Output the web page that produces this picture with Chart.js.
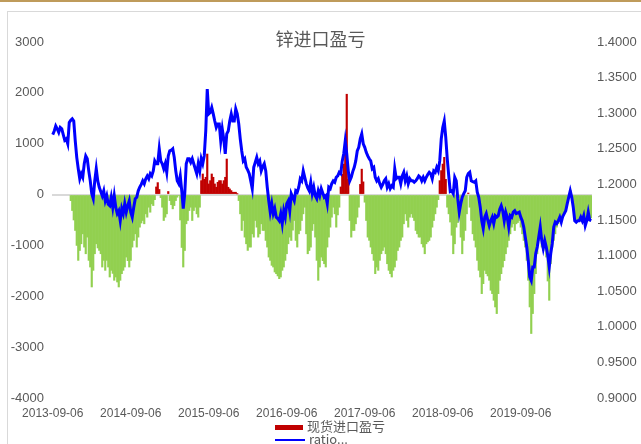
<!DOCTYPE html>
<html>
<head>
<meta charset="utf-8">
<script src="https://cdn.jsdelivr.net/npm/chart.js@4.4.1/dist/chart.umd.min.js"></script>
<style>
  body { margin: 0; background: #fff; }
  #wrap { position: relative; width: 641px; height: 444px; overflow: hidden; }
  #topline { position: absolute; left: 0; top: 0; width: 641px; height: 2px; background: #bf9b5b; }
  #frame { position: absolute; left: 7px; top: 11px; width: 700px; height: 500px;
    border-left: 1px solid #d9d9d9; border-top: 1px solid #d9d9d9; }
  #title { position: absolute; left: 0; width: 641px; top: 27px; text-align: center;
    font-family: "Noto Sans CJK SC", sans-serif; font-size: 18px; color: #595959; line-height: 22px; }
  canvas { position: absolute; left: 0; top: 0; }
  .leg { position: absolute; left: 275px; font-family: "Noto Sans CJK SC", sans-serif;
    font-size: 13px; color: #595959; line-height: 14px; }
  .leg span { display: inline-block; vertical-align: middle; margin-right: 4px; }
</style>
</head>
<body>
<div id="wrap">
  <div id="topline"></div>
  <div id="frame"></div>
  <canvas id="chart" width="641" height="444"></canvas>
  <div id="title">锌进口盈亏</div>
  <div class="leg" style="top:419px;"><span style="width:28px;height:5px;background:#c00000;"></span>现货进口盈亏</div>
  <div class="leg" style="top:432px;"><span style="width:30px;height:2px;background:#0000ff;"></span>ratio...</div>
</div>
<script>
  // weekly points starting 2013-09-06
  const startDate = "2013-09-06";
  const tickLabels = ["2013-09-06", "2014-09-06", "2015-09-06", "2016-09-06",
    "2017-09-06", "2018-09-06", "2019-09-06"];

  // 现货进口盈亏 (yuan/t)
  const pnl = [
    0,0,0,0,0,0,0,0,0,0,
    0,0,-120,-314,-500,-706,-1000,-1294,-1100,-968,
    -772,-1033,-1164,-837,-1294,-1425,-1817,-1490,-1164,-968,
    -1050,-1098,-1164,-1425,-1294,-1490,-1294,-1425,-1621,-1490,
    -1550,-1686,-1621,-1719,-1817,-1686,-1556,-1490,-1425,-1229,
    -1300,-1425,-1294,-1033,-902,-772,-1033,-837,-641,-560,
    -510,-575,-379,-445,-249,-347,-183,-216,-100,150,
    235,100,-60,-249,-510,-445,-379,60,-118,-200,
    -281,-216,-118,-52,-20,-500,-1040,-1425,-1100,-575,
    -510,-314,-249,-510,-314,-249,-379,-445,-249,274,
    405,300,340,797,209,274,405,340,209,144,
    242,274,274,209,274,340,699,144,111,78,
    46,46,46,13,-118,-379,-706,-510,-837,-968,
    -1098,-1033,-1033,-772,-837,-510,-641,-837,-772,-575,
    -706,-706,-902,-1033,-1229,-1294,-1392,-1425,-1523,-1556,
    -1600,-1654,-1621,-1490,-1425,-1294,-1164,-968,-837,-902,
    -700,-510,-902,-1033,-772,-706,-510,-379,-249,-772,
    -1164,-1100,-1033,-706,-575,-837,-1294,-1686,-1425,-1229,
    -1300,-1360,-1425,-1033,-837,-641,-445,-249,-379,-641,
    -400,-249,150,400,600,928,1973,300,-510,-837,
    -706,-706,-575,-445,-249,200,500,250,-150,-510,
    -837,-900,-1033,-1164,-1294,-1556,-1425,-1490,-1294,-1164,
    -1100,-1033,-1164,-1360,-1490,-1556,-1621,-1490,-1425,-1294,
    -1100,-1033,-902,-837,-575,-379,-510,-641,-445,-379,
    -450,-510,-706,-772,-837,-837,-968,-1033,-1164,-968,
    -930,-902,-837,-641,-510,-379,-249,-100,274,471,
    600,732,300,-249,-379,-540,-800,-1164,-968,-641,
    -550,-445,-837,-1164,-902,-706,-379,30,-249,-510,
    -772,-900,-1033,-1294,-1490,-1621,-1948,-1752,-1490,-1556,
    -1600,-1686,-1882,-1948,-2079,-2210,-2340,-1948,-1686,-1556,
    -1425,-1300,-1164,-1033,-902,-772,-641,-575,-706,-575,
    -550,-510,-641,-772,-902,-1033,-1294,-1686,-2210,-2732,
    -2340,-1948,-1556,-1164,-902,-837,-1033,-1098,-968,-1229,
    -1700,-2079,-1360,-1033,-902,-772,-641,-575,-510,-445,
    -400,-379,-249,-118,-30,78,-40,-300,-450,-520,
    -480,-530,-450,-500,-420,-560,-480,-400,-520,-460
  ];

  // ratio (right axis)
  const ratio = [
    1.270,1.275,1.282,1.278,1.273,1.280,1.278,1.270,1.262,1.264,
    1.257,1.287,1.290,1.292,1.289,1.261,1.238,1.222,1.208,1.215,
    1.210,1.229,1.240,1.236,1.219,1.205,1.187,1.180,1.205,1.222,
    1.205,1.196,1.190,1.184,1.191,1.177,1.184,1.172,1.170,1.182,
    1.168,1.184,1.168,1.159,1.163,1.149,1.166,1.159,1.173,1.161,
    1.170,1.177,1.161,1.154,1.168,1.180,1.182,1.191,1.196,1.200,
    1.205,1.201,1.208,1.212,1.208,1.215,1.212,1.219,1.233,1.229,
    1.229,1.250,1.233,1.229,1.222,1.229,1.217,1.240,1.247,1.248,
    1.250,1.238,1.219,1.205,1.201,1.212,1.191,1.166,1.187,1.229,
    1.236,1.236,1.231,1.236,1.229,1.222,1.215,1.229,1.219,1.236,
    1.229,1.240,1.275,1.334,1.299,1.301,1.308,1.299,1.289,1.280,
    1.285,1.285,1.261,1.278,1.264,1.243,1.271,1.275,1.289,1.299,
    1.289,1.289,1.306,1.299,1.285,1.264,1.247,1.233,1.236,1.224,
    1.220,1.215,1.205,1.194,1.224,1.231,1.238,1.229,1.233,1.219,
    1.225,1.229,1.219,1.196,1.177,1.161,1.173,1.159,1.166,1.154,
    1.152,1.149,1.159,1.145,1.163,1.154,1.173,1.177,1.163,1.187,
    1.182,1.177,1.191,1.189,1.196,1.208,1.205,1.219,1.210,1.201,
    1.195,1.191,1.203,1.187,1.196,1.184,1.180,1.191,1.184,1.194,
    1.188,1.182,1.184,1.173,1.196,1.194,1.201,1.205,1.203,1.210,
    1.212,1.217,1.215,1.233,1.243,1.261,1.243,1.219,1.205,1.210,
    1.218,1.224,1.233,1.247,1.252,1.264,1.271,1.257,1.252,1.245,
    1.240,1.236,1.233,1.222,1.224,1.210,1.205,1.208,1.201,1.196,
    1.200,1.205,1.208,1.196,1.201,1.194,1.198,1.196,1.222,1.208,
    1.210,1.210,1.201,1.212,1.217,1.205,1.212,1.201,1.208,1.205,
    1.205,1.203,1.205,1.208,1.212,1.210,1.205,1.210,1.205,1.210,
    1.214,1.217,1.215,1.208,1.219,1.217,1.224,1.219,1.233,1.264,
    1.280,1.289,1.266,1.236,1.212,1.190,1.191,1.187,1.210,1.205,
    1.180,1.161,1.173,1.182,1.187,1.191,1.210,1.215,1.217,1.205,
    1.204,1.203,1.205,1.189,1.182,1.168,1.149,1.138,1.154,1.159,
    1.150,1.142,1.149,1.154,1.145,1.156,1.154,1.156,1.165,1.170,
    1.163,1.149,1.161,1.154,1.140,1.156,1.154,1.161,1.163,1.159,
    1.160,1.161,1.154,1.149,1.140,1.126,1.112,1.093,1.070,1.065,
    1.084,1.084,1.103,1.112,1.126,1.140,1.121,1.110,1.121,1.112,
    1.100,1.084,1.103,1.117,1.140,1.147,1.145,1.149,1.154,1.147,
    1.155,1.159,1.163,1.173,1.182,1.191,1.182,1.168,1.149,1.147,
    1.149,1.149,1.154,1.149,1.156,1.142,1.149,1.161,1.150,1.149
  ];

  // one label per week
  const labels = pnl.map((v, i) => {
    const d = new Date(startDate + "T00:00:00Z");
    d.setUTCDate(d.getUTCDate() + i * 7);
    return d.toISOString().slice(0, 10);
  });

  const tickFont = { family: "Liberation Sans", size: 12 };
  const axisColor = "#595959";

  new Chart(document.getElementById("chart"), {
    type: "bar",
    data: {
      labels: labels,
      datasets: [
        {
          type: "line",
          label: "ratio...",
          data: ratio,
          yAxisID: "y1",
          borderColor: "#0000ff",
          borderWidth: 3,
          pointRadius: 0,
          tension: 0,
          order: 0,
        },
        {
          label: "现货进口盈亏",
          data: pnl,
          yAxisID: "y",
          backgroundColor: (c) => (c.raw > 0 ? "#c00000" : c.raw < 0 ? "#92d050" : "rgba(0,0,0,0)"),
          barPercentage: 1,
          categoryPercentage: 1,
          order: 1,
        },
      ],
    },
    options: {
      responsive: false,
      animation: false,
      layout: { padding: { top: 42, bottom: 24, left: 0, right: 0 } },
      plugins: {
        legend: { display: false },
        title: { display: false },
        tooltip: { enabled: false },
      },
      scales: {
        x: {
          offset: true,
          grid: { display: false, drawTicks: false },
          border: { display: false },
          ticks: {
            autoSkip: false,
            maxRotation: 0,
            minRotation: 0,
            padding: 8,
            font: tickFont,
            color: axisColor,
            callback: function (val, i) {
              return i % 52 === 0 && tickLabels[i / 52] ? tickLabels[i / 52] : "";
            },
          },
          afterFit: (s) => { s.height = 22; },
        },
        y: {
          position: "left",
          min: -4000,
          max: 3000,
          grid: {
            drawTicks: false,
            color: (c) => (c.tick && c.tick.value === 0 ? "#d9d9d9" : "rgba(0,0,0,0)"),
            lineWidth: 2,
          },
          border: { display: false },
          ticks: {
            stepSize: 1000,
            padding: 8,
            font: { family: "Liberation Sans", size: 13 },
            color: axisColor,
            callback: (v) => String(v),
          },
          afterFit: (s) => { s.width = 52; },
        },
        y1: {
          position: "right",
          min: 0.9,
          max: 1.4,
          grid: { display: false, drawTicks: false },
          border: { display: false },
          ticks: {
            stepSize: 0.05,
            padding: 5,
            font: { family: "Liberation Sans", size: 13 },
            color: axisColor,
            callback: (v) => v.toFixed(4),
          },
          afterFit: (s) => { s.width = 49; },
        },
      },
    },
  });
</script>
</body>
</html>
